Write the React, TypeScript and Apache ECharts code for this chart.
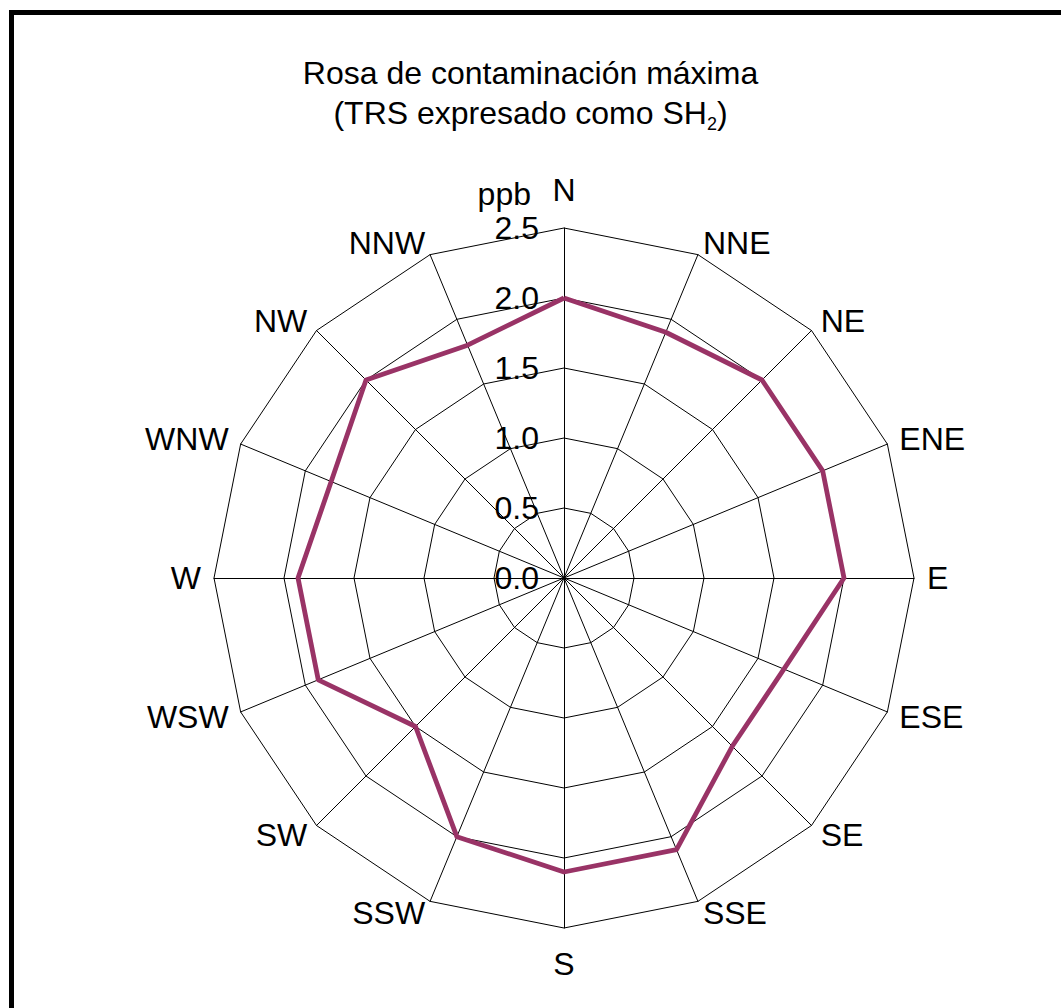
import React, { useEffect, useRef } from 'react';
import * as echarts from 'echarts';

// Compass directions, listed clockwise from north
const directions = ['N', 'NNE', 'NE', 'ENE', 'E', 'ESE', 'SE', 'SSE', 'S', 'SSW', 'SW', 'WSW', 'W', 'WNW', 'NW', 'NNW'];
// Maximum concentration (ppb) for each direction
const maxValues = [2.0, 1.9, 2.0, 2.0, 2.0, 1.7, 1.7, 2.1, 2.1, 2.0, 1.5, 1.9, 1.9, 1.8, 2.0, 1.8];
// Radial scale
const scaleMin = 0;
const scaleMax = 2.5;
const scaleStep = 0.5;
const unitLabel = 'ppb';
const titleLine1 = 'Rosa de contaminación máxima';
const titleLine2 = '(TRS expresado como SH';
const titleSub = '2';
const titleEnd = ')';

export default function App() {
  const ref = useRef<HTMLDivElement>(null);
  useEffect(() => {
    const chart = echarts.init(ref.current!, null, { renderer: 'svg' });
    const font = '"Liberation Sans", Arial, sans-serif';
    const fs = 32;
    const n = directions.length;
    // ECharts radar places indicators counter-clockwise; reorder so the picture runs clockwise
    const order = [0, ...Array.from({ length: n - 1 }, (_, i) => n - 1 - i)];
    const splits = Math.round((scaleMax - scaleMin) / scaleStep);
    chart.setOption({
      animation: false,
      backgroundColor: '#ffffff',
      textStyle: { fontFamily: font },
      title: {
        text: `${titleLine1}\n${titleLine2}{sub|${titleSub}}${titleEnd}`,
        left: 'center',
        top: 53,
        padding: 0,
        textStyle: {
          fontFamily: font,
          fontSize: fs,
          fontWeight: 'normal',
          color: '#000',
          lineHeight: 40,
          rich: {
            sub: { fontFamily: font, fontSize: 18, lineHeight: 28, verticalAlign: 'bottom', color: '#000' },
          },
        },
      },
      radar: {
        center: [564, 578],
        radius: 350,
        startAngle: 90,
        shape: 'polygon',
        splitNumber: splits,
        indicator: order.map((i) => ({ name: directions[i], min: scaleMin, max: scaleMax })),
        nameGap: 13,
        axisName: {
          color: '#000',
          fontSize: fs,
          fontFamily: font,
          formatter: (name: string) => (name === 'N' ? `{n|${name}}` : name === 'S' ? `{s|${name}}` : name),
          rich: {
            n: { fontSize: fs, fontFamily: font, color: '#000', padding: [0, 0, 9, 0] },
            s: { fontSize: fs, fontFamily: font, color: '#000', padding: [7, 0, 0, 0] },
          },
        },
        axisLine: { show: true, lineStyle: { color: '#000', width: 1 } },
        splitLine: { show: true, lineStyle: { color: '#000', width: 1 } },
        splitArea: { show: false },
        axisTick: { show: false },
        axisLabel: { show: false },
      },
      grid: { left: 564, top: 228, width: 10, height: 350 },
      xAxis: { type: 'value', show: false },
      yAxis: {
        type: 'value',
        position: 'left',
        min: scaleMin,
        max: scaleMax,
        interval: scaleStep,
        axisLine: { show: false },
        axisTick: { show: false },
        splitLine: { show: false },
        axisLabel: {
          margin: 25,
          color: '#000',
          fontSize: fs,
          fontFamily: font,
          formatter: (v: number) => v.toFixed(1),
        },
        name: unitLabel,
        nameLocation: 'end',
        nameGap: 18,
        nameTextStyle: {
          color: '#000',
          fontSize: fs,
          fontFamily: font,
          align: 'right',
          verticalAlign: 'bottom',
          padding: [0, 33, 0, 0],
        },
      },
      series: [
        {
          type: 'radar',
          symbol: 'none',
          silent: true,
          lineStyle: { color: '#993366', width: 4.8 },
          itemStyle: { color: '#993366' },
          data: [{ value: order.map((i) => maxValues[i]), name: 'max' }],
        },
      ],
      graphic: [
        {
          type: 'rect',
          silent: true,
          shape: { x: 11.5, y: 12.5, width: 1200, height: 1200 },
          style: { fill: 'none', stroke: '#000', lineWidth: 5 },
        },
      ],
    });
    return () => chart.dispose();
  }, []);
  return (
    <div
      ref={ref}
      style={{ position: 'fixed', left: 0, top: 0, width: 1061, height: 1008, background: '#fff' }}
    />
  );
}
